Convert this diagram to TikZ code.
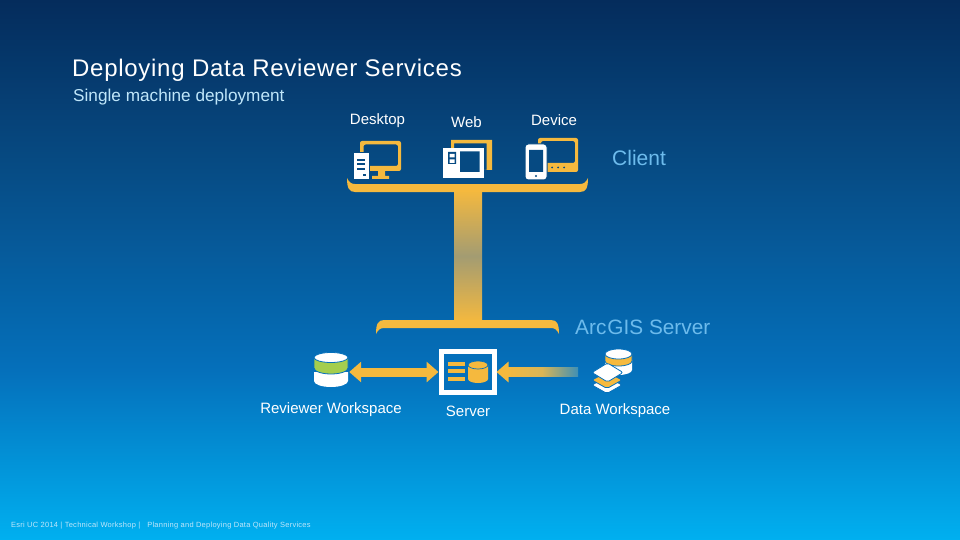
\documentclass[tikz,border=0pt]{standalone}
\usepackage{fontspec}
\setmainfont{Liberation Sans}
\usetikzlibrary{arrows.meta}
\definecolor{bgtop}{HTML}{052C5C}
\definecolor{bgupper}{HTML}{064A82}
\definecolor{bglower}{HTML}{0570BB}
\definecolor{bgbottom}{HTML}{00B0F0}
\definecolor{amber}{HTML}{F5B93E}
\definecolor{stemgrey}{HTML}{A39C72}
\definecolor{fadeblue}{HTML}{3F90B5}
\definecolor{fademid}{HTML}{D9B557}
\definecolor{paleblue}{HTML}{BFE6FA}
\definecolor{skytext}{HTML}{6DBBEC}
\definecolor{leaf}{HTML}{A4CE4E}
\pgfdeclareverticalshading{slidebg}{100bp}{color(0bp)=(bgbottom); color(25bp)=(bgbottom); color(40.7bp)=(bglower); color(60.2bp)=(bgupper); color(75bp)=(bgtop); color(100bp)=(bgtop)}
\tikzset{
    label15/.style={text=white, font=\fontsize{15}{17}\selectfont, inner sep=0pt},
    labelsky/.style={text=skytext, font=\fontsize{#1}{22}\selectfont, inner sep=0pt, anchor=west},
    iconslot/.style={inner sep=0pt, minimum width=#1, minimum height=36pt},
    gapline/.style={draw=#1, line width=0.8pt},
    dbarrow/.style={amber, line width=9pt, {Triangle[length=12pt,width=20pt]}-{Triangle[length=12pt,width=20pt]}},
    oneway/.style={amber, line width=9pt, -{Triangle[length=12pt,width=20pt]}}
}
\begin{document}
\begin{tikzpicture}[x=1pt, y=-1pt]
    \useasboundingbox (0,0) rectangle (960,540);
    % Fondo
    \shade[shading=slidebg] (0,0) rectangle (960,540);

    % Titulos
    \node[anchor=west, text=white, inner sep=0pt, font=\fontsize{24}{28}\selectfont\addfontfeature{LetterSpace=3}] (title) at (72,70.5) {Deploying Data Reviewer Services};
    \node[anchor=west, text=paleblue, inner sep=0pt, font=\fontsize{17.2}{20}\selectfont] (subtitle) at (73,97) {Single machine deployment};

    % Etiquetas
    \node[label15] (desktoplabel) at (377.5,121) {Desktop};
    \node[label15] (weblabel) at (466.5,122) {Web};
    \node[label15] (devicelabel) at (554,120) {Device};
    \node[labelsky=21] (clientlabel) at (612,158) {Client};
    \node[labelsky=20.8] (serverlayer) at (575,327) {Arc\kern1pt GIS Server};
    \node[label15] (reviewerlabel) at (331,409.5) {Reviewer Workspace};
    \node[label15] (serverlabel) at (468,411) {Server};
    \node[label15] (datalabel) at (615,411) {Data Workspace};
    \node[anchor=west, text=paleblue, inner sep=0pt, font=\fontsize{7.5}{10}\selectfont\addfontfeature{LetterSpace=3.5}] (footer) at (11,526) {Esri UC 2014 | Technical Workshop | \ \ Planning and Deploying Data Quality Services};

    % Llaves y columna
    \coordinate (clientbar) at (454,190);
    \coordinate (serverbar) at (482,322);
    \shade[top color=amber, bottom color=amber, middle color=stemgrey] (clientbar) rectangle (serverbar);
    \fill[amber] (347,178) .. controls (347,188) and (349,192) .. (355,192) -- (580,192) .. controls (586,192) and (588,188) .. (588,178) .. controls (586,182) and (584,184) .. (580,184) -- (355,184) .. controls (351,184) and (349,182) .. (347,178) -- cycle;
    \fill[amber] (376,334) .. controls (376,324) and (378,320) .. (384,320) -- (551,320) .. controls (557,320) and (559,324) .. (559,334) .. controls (557,330) and (555,328) .. (551,328) -- (384,328) .. controls (380,328) and (378,330) .. (376,334) -- cycle;

    % Desktop
    \fill[amber, rounded corners=2pt, even odd rule] (360,141) rectangle (401,171) (363.5,144.5) rectangle (398,166);
    \fill[amber] (378,171) rectangle (385,176) (372,176) rectangle (389,179);
    \draw[bgupper, line width=1pt, fill=white] (353,153) rectangle (369,179.5);
    \foreach \ly in {160,164.5,169}
        \fill[bgupper] (357,\ly-1) rectangle (365,\ly+1);
    \fill[bgupper] (363,174) rectangle (366,176);

    % Web
    \fill[amber, even odd rule] (451,140) rectangle (492,170) (454,143.5) rectangle (486.5,170);
    \fill[white] (443,148) rectangle (484,178);
    \fill[bgupper] (460,151.5) rectangle (479.5,172) (448,152) rectangle (456,164);
    \fill[white] (449.5,154) rectangle (454.5,157.5) (449.5,159.5) rectangle (454.5,163);

    % Device
    \fill[amber, rounded corners=2pt, even odd rule] (538,138) rectangle (578,172) (541,141) rectangle (575,163);
    \foreach \lx in {552,558,564}
        \fill[bgupper] (\lx,167.5) circle (1pt);
    \draw[bgupper, line width=1pt, fill=white, rounded corners=3pt] (525,144) rectangle (547,180);
    \fill[bgupper] (529,150) rectangle (543,172) (536,176) circle (1.2pt);

    % Reviewer Workspace
    \node[iconslot=36pt] (reviewerdb) at (331,372) {};
    \fill[white] (314,372) rectangle (348,381) (331,381) ellipse [x radius=17pt, y radius=6pt];
    \path[gapline=bglower, fill=leaf] (314,358) -- (314,368) .. controls (314,371.5) and (322,374) .. (331,374) .. controls (340,374) and (348,371.5) .. (348,368) -- (348,358) -- cycle;
    \draw[bglower, line width=0.8pt, fill=white] (331,357.5) ellipse [x radius=17pt, y radius=5pt];

    % Server
    \node[draw=white, line width=5pt, fill=bglower, inner sep=0pt, minimum width=53pt, minimum height=41pt] (serverbox) at (467.5,372) {};
    \foreach \ly in {364,371,379}
        \fill[amber] (448,\ly-2) rectangle (465,\ly+2);
    \fill[amber] (468,365) rectangle (488,379) (478,379) ellipse [x radius=10pt, y radius=4pt];
    \draw[bglower, line width=0.7pt, fill=amber] (478,365) ellipse [x radius=10pt, y radius=4pt];

    % Data Workspace
    \node[iconslot=44pt] (dataicon) at (612,372) {};
    \fill[white] (605,360) rectangle (632,370) (618.5,370) ellipse [x radius=13.5pt, y radius=5pt];
    \path[gapline=bglower, fill=amber] (605,354) -- (605,361) .. controls (605,364) and (611,366) .. (618.5,366) .. controls (626,366) and (632,364) .. (632,361) -- (632,354) -- cycle;
    \draw[bglower, line width=0.8pt, fill=white] (618.5,354) ellipse [x radius=13.5pt, y radius=5pt];
    \draw[bglower, line width=0.8pt, fill=white, rounded corners=2pt] (592,385) -- (607,377) -- (622,385) -- (607,393.5) -- cycle;
    \draw[bglower, line width=0.8pt, fill=amber, rounded corners=2pt] (592,380) -- (607,372) -- (622,380) -- (607,388.5) -- cycle;
    \draw[bglower, line width=0.8pt, fill=white, rounded corners=2pt] (592,372.5) -- (607.5,363) -- (623,372.5) -- (607.5,382) -- cycle;

    % Flechas
    \draw[dbarrow] (reviewerdb) -- (serverbox);
    \coordinate (fadestart) at (506,372);
    \coordinate (fadeend) at (578,372);
    \shade[left color=amber, right color=fadeblue, middle color=fademid] (fadestart) ++(0,-4.5) rectangle ([yshift=-4.5pt]fadeend);
    \draw[oneway] (fadestart) -- (serverbox);
\end{tikzpicture}
\end{document}
